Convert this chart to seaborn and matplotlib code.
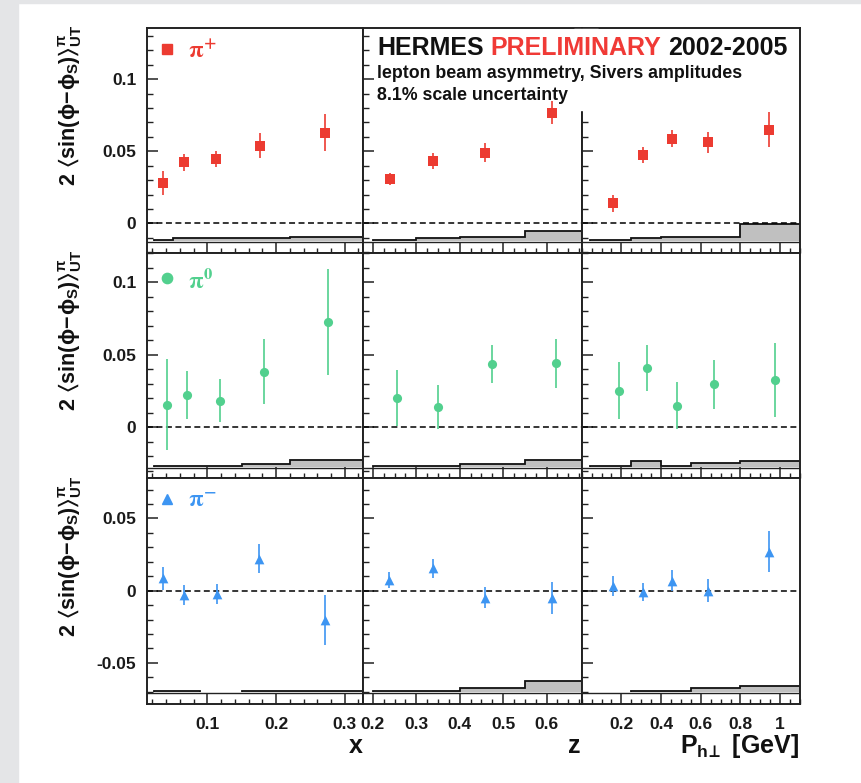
import numpy as np
import matplotlib
matplotlib.use("Agg")
import matplotlib.pyplot as plt
from matplotlib.patches import Rectangle
from matplotlib.text import Annotation
from matplotlib.ticker import FixedLocator, MultipleLocator, FuncFormatter
import seaborn as sns

sns.set_theme(style="ticks")
plt.rcParams["font.family"] = ["Liberation Sans", "DejaVu Sans"]
plt.rcParams["font.weight"] = "bold"
plt.rcParams["mathtext.fontset"] = "custom"
plt.rcParams["mathtext.rm"] = "Liberation Sans:bold"
plt.rcParams["mathtext.it"] = "Liberation Sans:bold"
plt.rcParams["mathtext.bf"] = "Liberation Sans:bold"
plt.rcParams["mathtext.sf"] = "Liberation Sans:bold"
plt.rcParams["mathtext.fallback"] = "stixsans"

# ---------------- data ----------------
# bin edges used for the systematic-uncertainty bands
x_edges = [0.023, 0.05, 0.09, 0.15, 0.22, 0.4]
z_edges = [0.2, 0.3, 0.4, 0.55, 0.7]
pt_edges = [0.04, 0.25, 0.4, 0.55, 0.8, 1.2]

# pi+
pip_x = [0.036, 0.066, 0.113, 0.176, 0.271]
pip_x_amp = [0.028, 0.0424, 0.0447, 0.054, 0.063]
pip_x_err = [0.008, 0.006, 0.0057, 0.0087, 0.013]
pip_x_sys = [0.0006, 0.0019, 0.0019, 0.0019, 0.0027]

pip_z = [0.239, 0.339, 0.459, 0.612]
pip_z_amp = [0.0308, 0.0435, 0.049, 0.0768]
pip_z_err = [0.0043, 0.0056, 0.0066, 0.0082]
pip_z_sys = [0.0006, 0.0017, 0.0025, 0.0068]

pip_pt = [0.156, 0.308, 0.454, 0.636, 0.943]
pip_pt_amp = [0.0139, 0.0474, 0.0588, 0.0562, 0.065]
pip_pt_err = [0.006, 0.0057, 0.006, 0.0072, 0.012]
pip_pt_sys = [0.0006, 0.0017, 0.0027, 0.0027, 0.0115]

# pi0
pi0_x = [0.042, 0.071, 0.118, 0.182, 0.276]
pi0_x_amp = [0.0154, 0.0221, 0.0182, 0.0383, 0.0728]
pi0_x_err = [0.0315, 0.0167, 0.0148, 0.0224, 0.0366]
pi0_x_sys = [0.0006, 0.0006, 0.0006, 0.0019, 0.0047]

pi0_z = [0.256, 0.350, 0.474, 0.622]
pi0_z_amp = [0.0201, 0.014, 0.0436, 0.044]
pi0_z_err = [0.0195, 0.0152, 0.013, 0.0168]
pi0_z_sys = [0.0008, 0.0008, 0.0018, 0.0046]

pi0_pt = [0.190, 0.331, 0.479, 0.665, 0.973]
pi0_pt_amp = [0.0251, 0.0406, 0.0147, 0.0295, 0.0325]
pi0_pt_err = [0.0197, 0.0157, 0.0161, 0.0167, 0.0253]
pi0_pt_sys = [0.0006, 0.0038, 0.0006, 0.0026, 0.0041]

# pi-
pim_x = [0.036, 0.0665, 0.1137, 0.1757, 0.2713]
pim_x_amp = [0.0086, -0.003, -0.0025, 0.022, -0.0203]
pim_x_err = [0.008, 0.0066, 0.0068, 0.010, 0.0173]
pim_x_sys = [0.0004, 0.0004, np.nan, 0.0005, 0.0005]

pim_z = [0.238, 0.339, 0.459, 0.612]
pim_z_amp = [0.0074, 0.0155, -0.0048, -0.0053]
pim_z_err = [0.0054, 0.0066, 0.0075, 0.011]
pim_z_sys = [0.0004, 0.0004, 0.0028, 0.0077]

pim_pt = [0.158, 0.308, 0.456, 0.638, 0.943]
pim_pt_amp = [0.0033, -0.0007, 0.0069, -0.0002, 0.027]
pim_pt_err = [0.007, 0.0063, 0.0074, 0.008, 0.014]
pim_pt_sys = [np.nan, 0.0004, 0.0004, 0.0028, 0.0040]

hadron_labels = [r"$\mathrm{\pi}^{+}$", r"$\mathrm{\pi}^{0}$", r"$\mathrm{\pi}^{-}$"]
hadron_colors = ["#ec3b31", "#52d08e", "#3d95f2"]
hadron_markers = ["s", "o", "^"]

x_tick_labels = [0.1, 0.2, 0.3]
z_tick_labels = [0.2, 0.3, 0.4, 0.5, 0.6]
pt_tick_labels = [0.2, 0.4, 0.6, 0.8, 1.0]

rows = [
    [(pip_x, pip_x_amp, pip_x_err, pip_x_sys),
     (pip_z, pip_z_amp, pip_z_err, pip_z_sys),
     (pip_pt, pip_pt_amp, pip_pt_err, pip_pt_sys)],
    [(pi0_x, pi0_x_amp, pi0_x_err, pi0_x_sys),
     (pi0_z, pi0_z_amp, pi0_z_err, pi0_z_sys),
     (pi0_pt, pi0_pt_amp, pi0_pt_err, pi0_pt_sys)],
    [(pim_x, pim_x_amp, pim_x_err, pim_x_sys),
     (pim_z, pim_z_amp, pim_z_err, pim_z_sys),
     (pim_pt, pim_pt_amp, pim_pt_err, pim_pt_sys)],
]
edges = [x_edges, z_edges, pt_edges]

# ---------------- layout ----------------
W, H = 862.0, 783.0
fig = plt.figure(figsize=(W / 100, H / 100), dpi=100)
fig.patch.set_facecolor("white")

col_px = [147.3, 363.3, 581.7, 800.0]
row_px = [27.7, 252.7, 478.3, 704.3]

xlims = [(0.0127, 0.327), (0.178, 0.681), (0.0, 1.1)]
ylims = [(-0.0204, 0.1358), (-0.0353, 0.1203), (-0.0787, 0.0778)]
band_base = [-0.0121, -0.0273, -0.0700]
axis_line = [-0.0131, -0.0284, -0.0711]
major_x = [x_tick_labels, z_tick_labels, pt_tick_labels]
minor_x = [0.02, 0.025, 0.05]

legend_marker_y = [0.904, 0.888, 0.907]
legend_text_y = [0.863, 0.843, 0.874]

fmt = FuncFormatter(lambda v, p: f"{round(v, 4) + 0:g}")

for i in range(3):
    for j in range(3):
        left = col_px[j] / W
        bottom = 1 - row_px[i + 1] / H
        width = (col_px[j + 1] - col_px[j]) / W
        height = (row_px[i + 1] - row_px[i]) / H
        ax = fig.add_axes([left, bottom, width, height])
        ax.set_facecolor("white")
        pos, amp, err, sys_ = rows[i][j]
        col = hadron_colors[i]

        # systematic band
        top = band_base[i] + np.asarray(sys_, dtype=float)
        ax.stairs(top, edges[j], baseline=band_base[i], fill=True,
                  facecolor="#c0c0c0", edgecolor="none", zorder=1)
        ax.stairs(top, edges[j], baseline=band_base[i], fill=False,
                  color="#111111", lw=1.3, zorder=2)
        ax.axhline(axis_line[i], color="#222222", lw=1.0, zorder=2)

        # zero line
        ax.axhline(0, color="black", lw=1.1, ls=(0, (3.9, 2.3)), zorder=2)

        # data points
        ax.errorbar(pos, amp, yerr=err, fmt="none", ecolor=col,
                    elinewidth=1.2, capsize=0, zorder=3)
        ms = 6.6 if hadron_markers[i] != "^" else 7.0
        sns.scatterplot(x=pos, y=amp, marker=hadron_markers[i], s=ms ** 2,
                        color=col, linewidth=0, ax=ax, zorder=4, legend=False)

        ax.set_xlim(*xlims[j])
        ax.set_ylim(*ylims[i])
        ax.xaxis.set_major_locator(FixedLocator(major_x[j]))
        ax.xaxis.set_minor_locator(MultipleLocator(minor_x[j]))
        ax.yaxis.set_major_locator(MultipleLocator(0.05))
        ax.yaxis.set_minor_locator(MultipleLocator(0.01))
        ax.xaxis.set_major_formatter(fmt)
        ax.yaxis.set_major_formatter(fmt)

        ax.tick_params(axis="x", which="major", direction="in", length=7.9,
                       width=1.1, bottom=True, top=False, color="#222222",
                       labelbottom=(i == 2), labelsize=12.5, pad=9)
        ax.tick_params(axis="x", which="minor", direction="in", length=3.8,
                       width=1.0, bottom=True, top=False, color="#222222")
        ax.tick_params(axis="y", which="major", direction="in", length=8.0,
                       width=1.1, left=True, right=False, color="#222222",
                       labelleft=(j == 0), labelsize=12.5, pad=8)
        ax.tick_params(axis="y", which="minor", direction="in", length=4.4,
                       width=1.0, left=True, right=False, color="#222222")
        for lab in ax.get_xticklabels() + ax.get_yticklabels():
            lab.set_fontweight("bold")
            lab.set_color("#1a1a1a")
        for sp in ax.spines.values():
            sp.set_linewidth(1.4)
            sp.set_color("#222222")
            sp.set_visible(True)
        ax.set_xlabel("")
        ax.set_ylabel("")

        if j == 0:
            ax.plot([0.0898], [legend_marker_y[i]], marker=hadron_markers[i],
                    ms=7.4, color=col, ls="none", transform=ax.transAxes,
                    clip_on=False, zorder=5)
            ax.text(0.19, legend_text_y[i], hadron_labels[i], color=col,
                    fontsize=17, math_fontfamily="stix", va="baseline",
                    ha="left", transform=ax.transAxes, zorder=5)

# y-axis titles
ylab = r"$2\ \langle\sin(\phi\!-\!\phi_{S})\rangle_{UT}^{\pi}$"
for i in range(3):
    fig.text(70 / W, 1 - (row_px[i] - 3) / H, ylab, rotation=90,
             ha="center", va="top", fontsize=15.5, color="#111111")

# x-axis titles
fig.text(363 / W, 1 - 753 / H, "x", ha="right", va="baseline",
         fontsize=18, color="#111111")
fig.text(581 / W, 1 - 753 / H, "z", ha="right", va="baseline",
         fontsize=18, color="#111111")
fig.text(799 / W, 1 - 753 / H, r"$P_{h\!\bot}$ [GeV]", ha="right",
         va="baseline", fontsize=18, color="#111111")

# page background strips
for rect in [(0, 0, 18 / W, 1), (0, 1 - 3 / H, 1, 3 / H)]:
    fig.patches.append(Rectangle(rect[:2], rect[2], rect[3],
                                 transform=fig.transFigure,
                                 color="#e4e5e7", zorder=0))

# white box behind the headline where it crosses the panel divider
fig.patches.append(Rectangle((574 / W, 1 - 110 / H), 24 / W, 81 / H,
                             transform=fig.transFigure, color="white",
                             zorder=5))

# headline
t1 = fig.text(377 / W, 1 - 55 / H, "HERMES", fontsize=18, color="#111111",
              ha="left", va="baseline", zorder=6)
ann2 = Annotation("PRELIMINARY", xy=(1, 0), xycoords=t1,
                  xytext=(5, 0), textcoords="offset points",
                  fontsize=18, color="#f03a36", ha="left", va="bottom",
                  annotation_clip=False, zorder=6)
fig.add_artist(ann2)
ann3 = Annotation("2002-2005", xy=(1, 0), xycoords=ann2,
                  xytext=(5, 0), textcoords="offset points",
                  fontsize=18, color="#111111", ha="left", va="bottom",
                  annotation_clip=False, zorder=6)
fig.add_artist(ann3)
fig.text(377 / W, 1 - 78.3 / H, "lepton beam asymmetry, Sivers amplitudes",
         fontsize=12.8, color="#111111", ha="left", va="baseline", zorder=6)
fig.text(377 / W, 1 - 100 / H, "8.1% scale uncertainty",
         fontsize=12.8, color="#111111", ha="left", va="baseline", zorder=6)

fig.savefig("out.png", dpi=100)
